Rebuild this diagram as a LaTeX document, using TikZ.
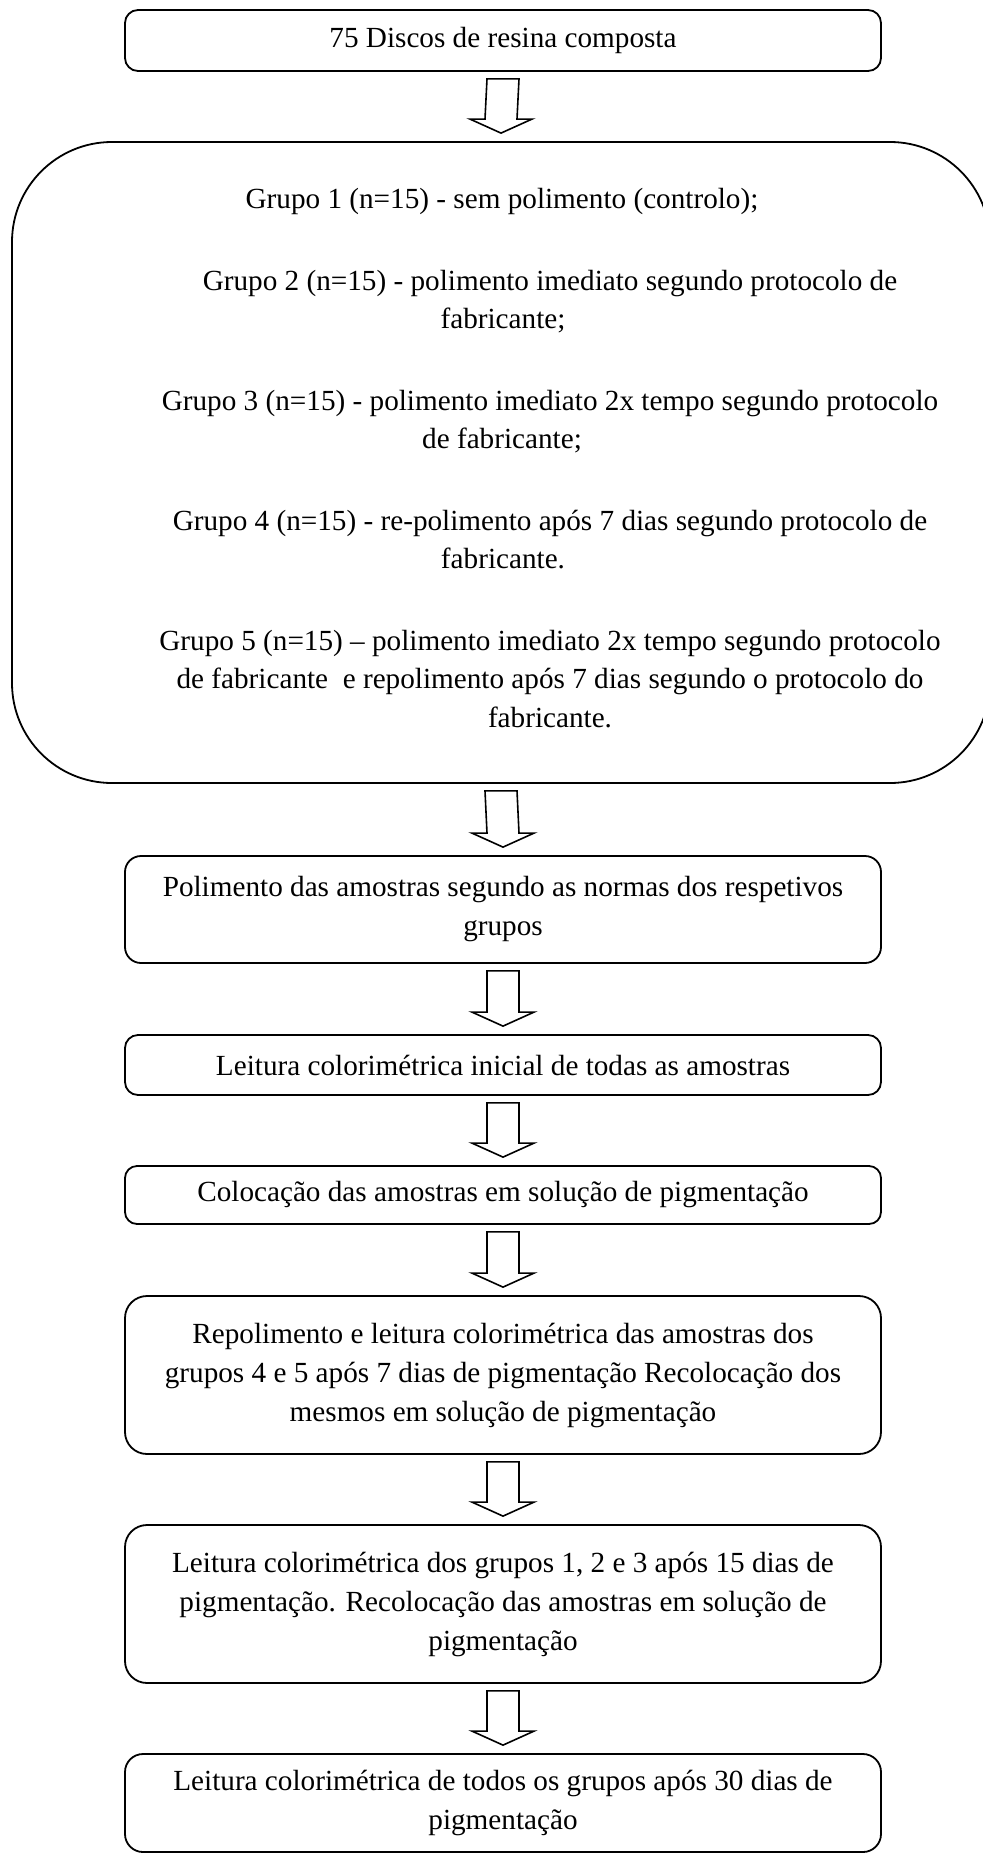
\documentclass[tikz,border=0pt]{standalone}
\usepackage{fontspec}
\setmainfont{Liberation Serif}
\usetikzlibrary{calc}
\newcommand\mytxt{\fontsize{29.2}{39}\selectfont}
\tikzset{
  stepbox/.style={draw, line width=1.8pt, minimum width=756pt, align=center, inner sep=0pt, font=\mytxt},
  bigbox/.style={draw, line width=1.8pt, rounded corners=100pt, minimum width=978pt, minimum height=641pt, inner sep=0pt},
  line/.style={inner sep=0pt, anchor=base, font=\mytxt},
  blockarrow/.style={draw, line width=1.6pt, line join=miter, fill=white}
}
\newcommand\barrow[2]{%
  \draw[blockarrow]
    ($(#1.south)+(-16,7)$) -- ($(#2.north)+(-16,-22)$) -- ($(#2.north)+(-31,-22)$)
    -- ($(#2.north)+(0,-8)$) -- ($(#2.north)+(31,-22)$) -- ($(#2.north)+(16,-22)$)
    -- ($(#1.south)+(16,7)$) -- cycle;}
\begin{document}
\begin{tikzpicture}[x=1pt,y=-1pt]
\useasboundingbox (0,0) rectangle (982,1854);
\node[stepbox, rounded corners=13pt, minimum height=61pt] (b1) at (503,40.5) {75 Discos de resina composta};
\node[bigbox] (big) at (501,462.5) {};
\node[line] (g1) at (502,208) {Grupo 1 (n=15) - sem polimento (controlo);};
\node[line] (g2a) at (550,290) {Grupo 2 (n=15) - polimento imediato segundo protocolo de};
\node[line] (g2b) at (503,328) {fabricante;};
\node[line] (g3a) at (550,410) {Grupo 3 (n=15) - polimento imediato 2x tempo segundo protocolo};
\node[line] (g3b) at (502,448) {de fabricante;};
\node[line] (g4a) at (550,530) {Grupo 4 (n=15) - re-polimento após 7 dias segundo protocolo de};
\node[line] (g4b) at (503,568) {fabricante.};
\node[line] (g5a) at (550,650) {Grupo 5 (n=15) – polimento imediato 2x tempo segundo protocolo};
\node[line] (g5b) at (550,688) {de fabricante\ \ e repolimento após 7 dias segundo o protocolo do};
\node[line] (g5c) at (550,727) {fabricante.};
\node[stepbox, rounded corners=16pt, minimum height=107pt] (b3) at (503,909.5) {Polimento das amostras segundo as normas dos respetivos\\grupos};
\node[stepbox, rounded corners=13pt, minimum height=60pt] (b4) at (503,1065) {Leitura colorimétrica inicial de todas as amostras};
\node[stepbox, rounded corners=12pt, minimum height=58pt] (b5) at (503,1195) {Colocação das amostras em solução de pigmentação};
\node[stepbox, rounded corners=22pt, minimum height=158pt] (b6) at (503,1375) {Repolimento e leitura colorimétrica das amostras dos\\grupos 4 e 5 após 7 dias de pigmentação Recolocação dos\\mesmos em solução de pigmentação};
\node[stepbox, rounded corners=22pt, minimum height=158pt] (b7) at (503,1604) {Leitura colorimétrica dos grupos 1, 2 e 3 após 15 dias de\\pigmentação. Recolocação das amostras em solução de\\pigmentação};
\node[stepbox, rounded corners=18pt, minimum height=98pt] (b8) at (503,1803) {Leitura colorimétrica de todos os grupos após 30 dias de\\pigmentação};
\barrow{b1}{big}
\barrow{big}{b3}
\barrow{b3}{b4}
\barrow{b4}{b5}
\barrow{b5}{b6}
\barrow{b6}{b7}
\barrow{b7}{b8}
\end{tikzpicture}
\end{document}
